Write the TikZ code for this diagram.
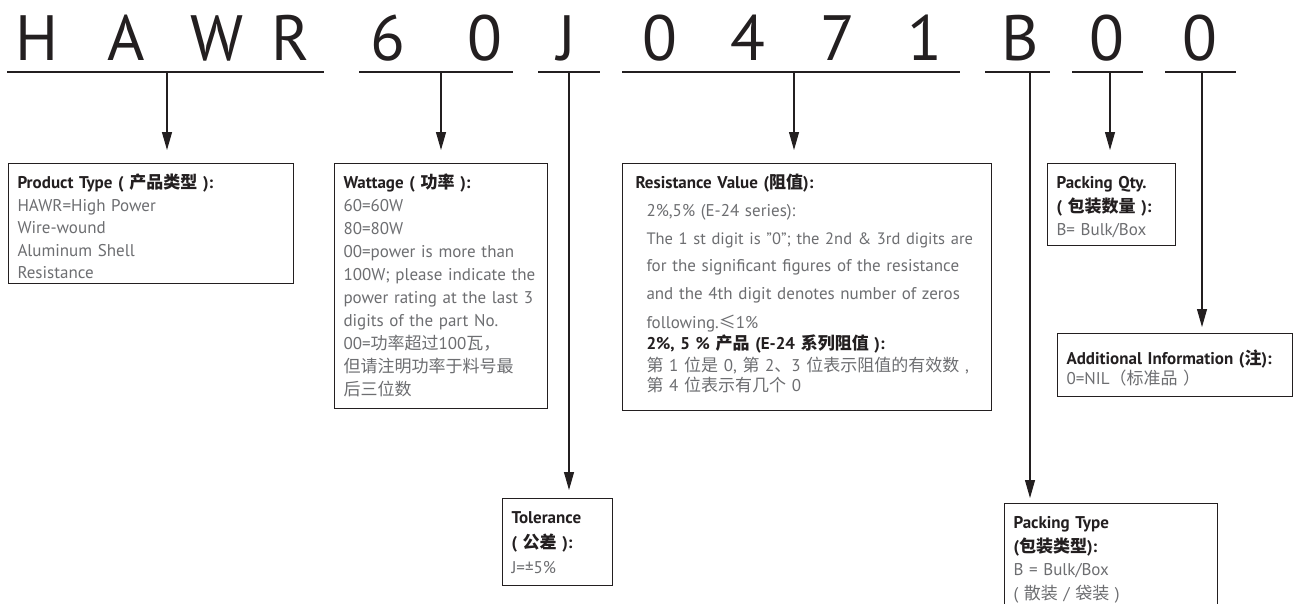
\documentclass[tikz,border=0pt]{standalone}
\usepackage{fontspec}
\setmainfont{PT Sans}
\newfontfamily\cjkfont{Noto Sans CJK SC}
\usetikzlibrary{arrows.meta}
\definecolor{ink}{HTML}{231F20}
\definecolor{greytext}{HTML}{6D6E71}
\newcommand\zh[1]{{\cjkfont #1}}
\newcommand\boxtitle[1]{{\bfseries\color{ink}#1}}
\newcommand\topgap[1]{\rule{0pt}{#1pt}}
\newcommand\botgap[1]{\rule[-#1pt]{0pt}{0pt}}

\begin{document}
\begin{tikzpicture}[x=1pt,y=-1pt,
	every node/.style={inner sep=0pt},
	code/.style={font=\fontsize{64}{64}\selectfont, text=ink, anchor=base},
	bar/.style={draw=ink, line width=2pt},
	lead/.style={draw=ink, line width=1.1pt, -{Triangle[length=18pt,width=10pt]}},
	info/.style={draw=ink, line width=1pt, anchor=north west, align=left, inner xsep=9pt, inner ysep=0pt, text=greytext, font=\fontsize{17}{23}\selectfont}]
	\clip (0,0) rectangle (1297,603);
	\fill[white] (0,0) rectangle (1297,603);
	% part number
	\foreach \ch/\x [count=\i] in {H/37,A/126,W/217,R/291,6/388,0/485,J/567,0/660,4/748,7/838,1/925,B/1020,0/1107,0/1200}
		\node[code] (c\i) at (\x,60) {\ch};
	\foreach \a/\b/\t/\n in {7/324/167/ptype,359/513/441/watt,538/600/569/tol,622/960/794/res,985/1050/1030/pack,1072/1143/1110/qty,1165/1236/1202/add}{
		\coordinate (\n-l) at (\a,72);
		\coordinate (\n-r) at (\b,72);
		\coordinate (\n-t) at (\t,72);
		\draw[bar] (\n-l) -- (\n-r);
	}
	% boxes
	\node[info, text width=267pt, font=\fontsize{17}{22.5}\selectfont] (ptype) at (8,163) {\topgap{25}\boxtitle{Product Type ( \zh{产品类型} ):}\\HAWR=High Power\\Wire-wound\\Aluminum Shell\\Resistance\botgap{5}};
	\node[info, text width=195pt] (watt) at (334,163) {\topgap{25}\boxtitle{Wattage ( \zh{功率} ):}\\60=60W\\80=80W\\00=power is more than\\100W; please indicate the\\power rating at the last 3\\digits of the part No.\\00=\zh{功率超过}100\zh{瓦，}\\\zh{但请注明功率于料号最}\\\zh{后三位数}\botgap{13}};
	\node[info, text width=343pt, inner xsep=13pt] (res) at (622,163) {\topgap{25}\boxtitle{Resistance Value (\zh{阻值}):}\\[5pt]
		\hspace*{11pt}2\%,5\% (E-24 series):\\[5pt]
		\hspace*{11pt}\mbox{\fontsize{16.5}{23}\selectfont The 1 st digit is ”0”; the 2nd \& 3rd digits are}\\[4pt]
		\hspace*{11pt}for the significant figures of the resistance\\[5pt]
		\hspace*{11pt}and the 4th digit denotes number of zeros\\[6pt]
		\hspace*{11pt}following.\zh{≤}1\%\\[-2pt]
		\hspace*{11pt}\boxtitle{2\%, 5 \% \zh{产品} (E-24 \zh{系列阻值} ):}\\[-1pt]
		\hspace*{11pt}\zh{第} 1 \zh{位是} 0, \zh{第} 2\zh{、}3 \zh{位表示阻值的有效数} ,\\[-3pt]
		\hspace*{11pt}\zh{第} 4 \zh{位表示有几个} 0\botgap{19}};
	\node[info, text width=110pt] (qty) at (1047,163) {\topgap{25}\boxtitle{Packing Qty.}\\[1pt]\boxtitle{( \zh{包装数量} ):}\\B= Bulk/Box\botgap{10}};
	\node[info, text width=217pt, font=\fontsize{17}{20}\selectfont] (add) at (1057,333) {\topgap{31}\boxtitle{Additional Information (\zh{注}):}\\0=NIL\zh{（标准品 ）}\botgap{12}};
	\node[info, text width=92pt, font=\fontsize{17}{25}\selectfont] (tol) at (502,498) {\topgap{25}\boxtitle{Tolerance}\\\boxtitle{( \zh{公差} ):}\\J=±5\%\botgap{12}};
	\node[info, text width=195pt, font=\fontsize{17}{23.5}\selectfont] (pack) at (1004,503) {\topgap{25}\boxtitle{Packing Type}\\\boxtitle{(\zh{包装类型}):}\\B = Bulk/Box\\( \zh{散装} / \zh{袋装} )\botgap{20}};
	% leaders
	\draw[lead, shorten >=13pt] (ptype-t) -- (ptype-t |- ptype.north);
	\draw[lead, shorten >=13pt] (watt-t) -- (watt-t |- watt.north);
	\draw[lead, shorten >=13pt] (res-t) -- (res-t |- res.north);
	\draw[lead, shorten >=13pt] (qty-t) -- (qty-t |- qty.north);
	\draw[lead, shorten >=8pt] (tol-t) -- (tol-t |- tol.north);
	\draw[lead, shorten >=5pt] (pack-t) -- (pack-t |- pack.north);
	\draw[lead, shorten >=6pt] (add-t) -- (add-t |- add.north);
\end{tikzpicture}
\end{document}
